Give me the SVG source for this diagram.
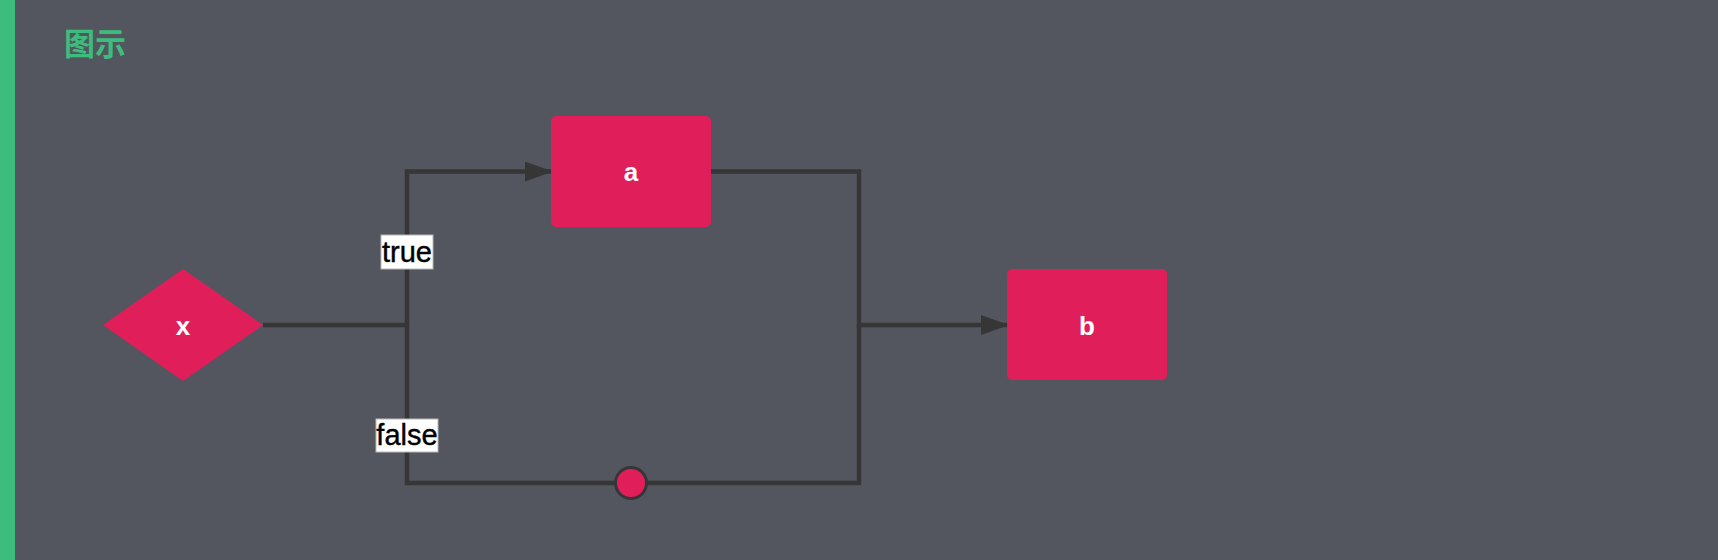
<svg xmlns="http://www.w3.org/2000/svg" width="1718" height="560" viewBox="0 0 1718 560">
<defs>
<style>
.node{fill:#e01f5a}
.ntext{fill:#ffffff;font-family:"Liberation Sans",Arial,sans-serif;font-weight:bold;font-size:26px;text-anchor:middle}
.edge{fill:none;stroke:#363636;stroke-width:4.5}
.lbox{fill:#ffffff;stroke:#b8b8b8;stroke-width:1}
.ltext{fill:#000000;stroke:#000000;stroke-width:0.4;font-family:"Liberation Sans",Arial,sans-serif;font-size:29px;text-anchor:middle}
</style>
<marker id="arrow" markerUnits="userSpaceOnUse" markerWidth="28" markerHeight="20" refX="27" refY="10" orient="auto">
<path d="M0,0 L28,10 L0,20 z" fill="#363636"/>
</marker>
</defs>
<rect x="0" y="0" width="1718" height="560" fill="#53565e"/>
<rect x="0" y="0" width="15" height="560" fill="#3dbd7d"/>
<text x="64" y="55" font-family="'Noto Sans CJK SC',sans-serif" font-size="31" font-weight="bold" fill="#3dbd7d">图示</text>
<g id="connectors">
<path class="edge" d="M263,325 H407 V171.5 H552" marker-end="url(#arrow)"/>
<path class="edge" d="M407,325 V483 H615"/>
<path class="edge" d="M647,483 H859 V325"/>
<path class="edge" d="M711,171.5 H859 V325 H1008" marker-end="url(#arrow)"/>
<g id="label-true">
<rect class="lbox" x="381" y="235" width="52" height="34"/>
<text class="ltext" x="407" y="262">true</text>
</g>
<g id="label-false">
<rect class="lbox" x="376" y="419" width="62" height="33"/>
<text class="ltext" x="407" y="445">false</text>
</g>
</g>
<g id="node-x">
<polygon class="node" points="103,325 183,269 263,325 183,381"/>
<text class="ntext" x="183" y="335">x</text>
</g>
<g id="node-a">
<rect class="node" x="551" y="116" width="160" height="111" rx="5"/>
<text class="ntext" x="631" y="181">a</text>
</g>
<g id="node-b">
<rect class="node" x="1007" y="269" width="160" height="111" rx="5"/>
<text class="ntext" x="1087" y="335">b</text>
</g>
<g id="node-join">
<circle cx="631" cy="483" r="15.5" fill="#e01f5a" stroke="#363636" stroke-width="3"/>
</g>
</svg>
